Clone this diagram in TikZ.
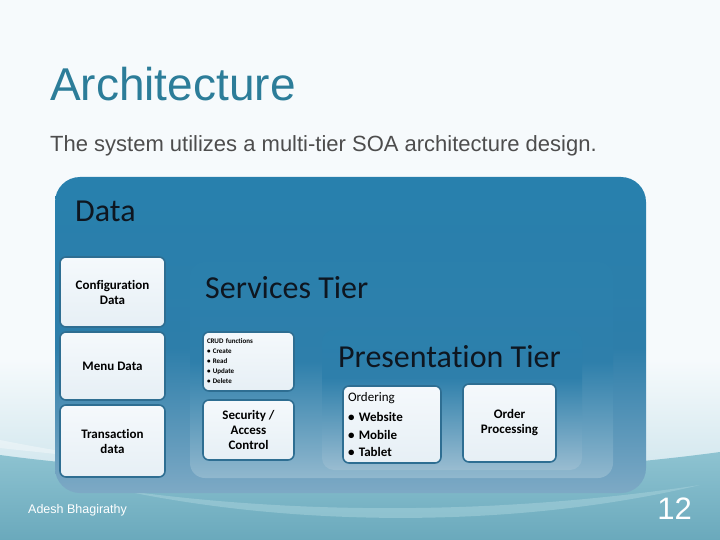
\documentclass[tikz,border=0pt]{standalone}
\usepackage{fontspec}
\setmainfont[Ligatures=NoCommon]{Carlito}
\newfontfamily\arialf{Liberation Sans}
\definecolor{bgtop}{HTML}{F6FAFC}
\definecolor{bgpale}{HTML}{D2E7EE}
\definecolor{titleblue}{HTML}{2C7D99}
\definecolor{subgray}{HTML}{4D4D4D}
\definecolor{txtdark}{HTML}{0E1620}
\definecolor{boxline}{HTML}{2E6E92}
\definecolor{boxtop}{HTML}{F5F9FC}
\definecolor{boxbot}{HTML}{E6EFF5}
\definecolor{dA}{HTML}{2382B0}
\definecolor{dB}{HTML}{2D7EAA}
\definecolor{dC}{HTML}{8FB3CB}
\definecolor{dD}{HTML}{B8CCDA}
\definecolor{sA}{HTML}{2781AE}
\definecolor{sB}{HTML}{2E7FAB}
\definecolor{sC}{HTML}{A3C2D4}
\definecolor{sD}{HTML}{C2D5E1}
\definecolor{tealtop}{HTML}{8EC3D1}
\definecolor{tealbot}{HTML}{6AA9BC}
\definecolor{waveL}{HTML}{A6D1DB}
\pgfdeclareverticalshading{datashade}{100bp}{color(0bp)=(dD); color(20bp)=(dC); color(48bp)=(dB); color(100bp)=(dA)}
\pgfdeclareverticalshading{servshade}{100bp}{color(0bp)=(sD); color(20bp)=(sC); color(52bp)=(sB); color(100bp)=(sA)}
\pgfdeclareverticalshading{presshade}{100bp}{color(0bp)=(sD); color(22bp)=(sC); color(58bp)=(sB); color(100bp)=(sA)}
\tikzset{
  wbox/.style={draw=boxline, line width=1.6pt, rounded corners=6pt,
    top color=boxtop, bottom color=boxbot, align=center, text=black,
    font=\bfseries\fontsize{13}{15}\selectfont, inner sep=2pt},
  tierlbl/.style={anchor=base west, inner sep=0pt, text=txtdark,
    font=\fontsize{32}{38}\selectfont},
  container/.style={rounded corners=#1, draw=none}
}
\begin{document}
\begin{tikzpicture}[x=1pt,y=-1pt]
\useasboundingbox (0,0) rectangle (720,540);
% background
\fill[bgtop] (0,0) rectangle (720,540);
\shade[top color=bgtop, bottom color=bgpale] (0,360) rectangle (720,470);
\shade[top color=tealtop, bottom color=tealbot] (0,455) .. controls (200,482) and (500,482) .. (720,452) -- (720,540) -- (0,540) -- cycle;
\fill[white, opacity=0.35] (0,440) .. controls (150,470) and (300,480) .. (420,480) .. controls (280,478) and (130,462) .. (0,448) -- cycle;
\fill[waveL, opacity=0.55] (120,490) .. controls (300,515) and (500,515) .. (700,485) .. controls (520,528) and (300,528) .. (120,490) -- cycle;
% title
\node[anchor=base west, inner sep=0pt, text=titleblue, font=\arialf\fontsize{46}{52}\selectfont] (title) at (50,101) {Architecture};
\node[anchor=base west, inner sep=0pt, text=subgray, font=\arialf\fontsize{22}{26}\selectfont] (subtitle) at (50,152) {The system utilizes a multi-tier SOA architecture design.};
% containers
\node[container=25pt, shading=datashade, minimum width=591pt, minimum height=316pt, inner sep=0pt] (data) at (350.5,335) {};
\node[container=15pt, shading=servshade, minimum width=423pt, minimum height=216pt, inner sep=0pt] (serv) at (401.5,370) {};
\node[container=12pt, shading=presshade, minimum width=260pt, minimum height=140pt, inner sep=0pt] (pres) at (452,400) {};
% tier labels
\node[tierlbl] (datalbl) at (75,222) {Data};
\node[tierlbl] (servlbl) at (205,298) {Services Tier};
\node[tierlbl] (preslbl) at (338,367) {Presentation Tier};
% data boxes
\node[wbox, minimum width=105pt, minimum height=70pt] (config) at (112.5,292) {Configuration\\Data};
\node[wbox, minimum width=105pt, minimum height=68pt] (menu) at (112.5,366) {Menu Data};
\node[wbox, minimum width=105pt, minimum height=72pt] (trans) at (112.5,441) {Transaction\\data};
% services boxes
\node[wbox, minimum width=91pt, minimum height=59pt, text width=83pt, align=left,
      font=\bfseries\fontsize{7}{10}\selectfont] (crud) at (248.5,361.5)
  {CRUD functions\\• Create\\• Read\\• Update\\• Delete};
\node[wbox, minimum width=91pt, minimum height=60pt] (sec) at (248.5,430) {Security /\\Access\\Control};
% presentation boxes
\node[wbox, minimum width=98pt, minimum height=77pt, text width=88pt, align=left,
      font=\bfseries\fontsize{13}{17.5}\selectfont] (order) at (392,424.5)
  {{\mdseries Ordering}\\[3pt]• Website\\• Mobile\\• Tablet};
\node[wbox, minimum width=93pt, minimum height=78pt] (proc) at (509.5,423) {Order\\Processing};
% footer
\node[anchor=base west, inner sep=0pt, text=white, font=\arialf\fontsize{12.5}{15}\selectfont] (author) at (28,513) {Adesh Bhagirathy};
\node[anchor=base east, inner sep=0pt, text=white, font=\arialf\fontsize{31}{36}\selectfont] (page) at (692,519) {12};
\end{tikzpicture}
\end{document}
